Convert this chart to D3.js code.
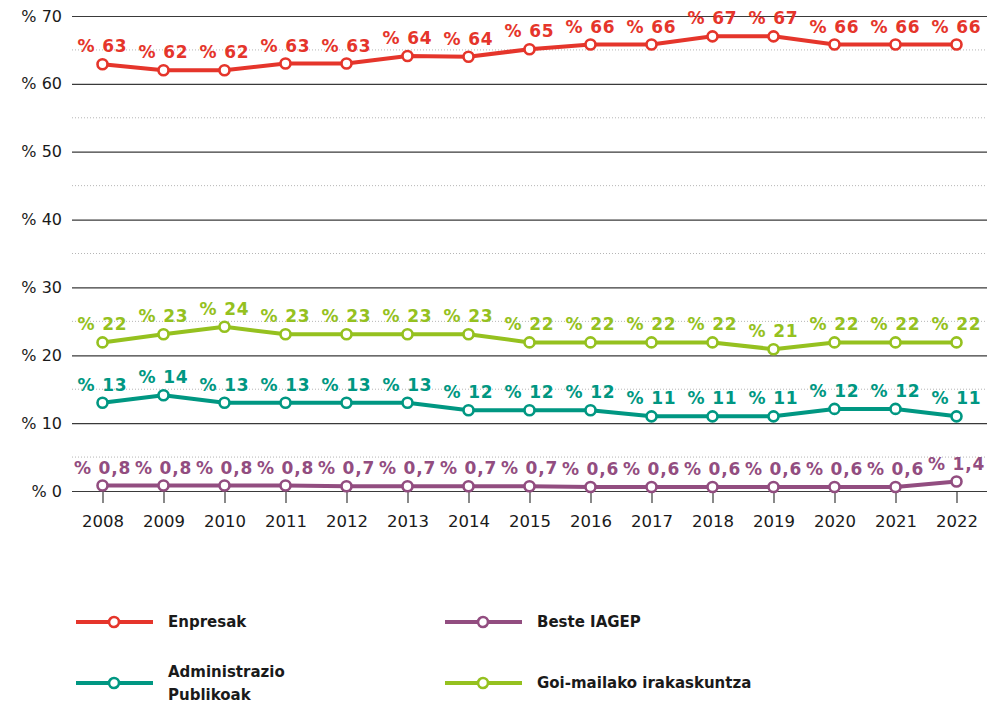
<!DOCTYPE html>
<html>
<head>
<meta charset="utf-8">
<script src="https://cdn.jsdelivr.net/npm/d3@7"></script>
<style>
  body { margin: 0; background: #fff; }
  text { font-family: "DejaVu Sans", sans-serif; }
</style>
</head>
<body>
<div id="chart"></div>
<script>
var years = ["2008","2009","2010","2011","2012","2013","2014","2015","2016","2017","2018","2019","2020","2021","2022"];

var enpresak = [62.9, 62, 62, 63, 63, 64.1, 64, 65.1, 65.8, 65.8, 67, 67, 65.8, 65.8, 65.8];
var enpresakLabels = ["63","62","62","63","63","64","64","65","66","66","67","67","66","66","66"];

var goiMailako = [21.9, 23.1, 24.2, 23.1, 23.1, 23.1, 23.1, 21.9, 21.9, 21.9, 21.9, 20.9, 21.9, 21.9, 21.9];
var goiLabels = ["22","23","24","23","23","23","23","22","22","22","22","21","22","22","22"];

var administrazio = [13, 14.1, 13, 13, 13, 13, 11.9, 11.9, 11.9, 11, 11, 11, 12.1, 12.1, 11];
var adminLabels = ["13","14","13","13","13","13","12","12","12","11","11","11","12","12","11"];

var beste = [0.8, 0.8, 0.8, 0.8, 0.7, 0.7, 0.7, 0.7, 0.6, 0.6, 0.6, 0.6, 0.6, 0.6, 1.4];
var besteLabels = ["0,8","0,8","0,8","0,8","0,7","0,7","0,7","0,7","0,6","0,6","0,6","0,6","0,6","0,6","1,4"];

var yTicks = [0, 10, 20, 30, 40, 50, 60, 70];
var yMinor = [5, 15, 25, 35, 45, 55, 65];

var series = [
  { name: "Enpresak", values: enpresak, labels: enpresakLabels, color: "#e5352b" },
  { name: "Goi-mailako irakaskuntza", values: goiMailako, labels: goiLabels, color: "#95c11f" },
  { name: "Administrazio Publikoak", values: administrazio, labels: adminLabels, color: "#009782" },
  { name: "Beste IAGEP", values: beste, labels: besteLabels, color: "#924d80" }
];

var svgWidth = 1002;
var svgHeight = 703;

var margin = { top: 16, right: 15, bottom: 212, left: 72 };
var width = svgWidth - margin.left - margin.right;
var height = svgHeight - margin.top - margin.bottom;

var svg = d3.select("#chart")
  .append("svg")
  .attr("width", svgWidth)
  .attr("height", svgHeight);

var chartGroup = svg.append("g")
  .attr("transform", `translate(${margin.left}, ${margin.top})`);

var x = d3.scalePoint()
  .domain(years)
  .range([0, width])
  .padding(0.5);

var y = d3.scaleLinear()
  .domain([0, 70])
  .range([height, 0]);

// dotted minor gridlines
chartGroup.selectAll(".minor")
  .data(yMinor)
  .enter()
  .append("line")
  .attr("x1", 0)
  .attr("x2", width)
  .attr("y1", d => y(d))
  .attr("y2", d => y(d))
  .attr("stroke", "#b5b5b5")
  .attr("stroke-width", 1)
  .attr("stroke-dasharray", "1,2");

// y axis with solid gridlines
var leftAxis = d3.axisLeft(y)
  .tickValues(yTicks)
  .tickSize(-width)
  .tickPadding(10)
  .tickFormat(d => "% " + d);

var yAxis = chartGroup.append("g").call(leftAxis);
yAxis.select(".domain").remove();
yAxis.selectAll(".tick line")
  .attr("stroke", "#3a3a3a")
  .attr("stroke-width", 1.2);
yAxis.selectAll(".tick text")
  .attr("font-family", "DejaVu Sans")
  .attr("font-size", "16px")
  .attr("fill", "#1a1a1a");

// x axis
var bottomAxis = d3.axisBottom(x)
  .tickSize(12)
  .tickPadding(12);

var xAxis = chartGroup.append("g")
  .attr("transform", `translate(0, ${height})`)
  .call(bottomAxis);
xAxis.select(".domain").remove();
xAxis.selectAll(".tick line")
  .attr("stroke", "#3a3a3a")
  .attr("stroke-width", 1.2);
xAxis.selectAll(".tick text")
  .attr("font-family", "DejaVu Sans")
  .attr("font-size", "16.5px")
  .attr("fill", "#1a1a1a");

var line = d3.line()
  .x((d, i) => x(years[i]))
  .y(d => y(d));

series.forEach(function(s) {
  var g = chartGroup.append("g");

  g.append("path")
    .datum(s.values)
    .attr("d", line)
    .attr("fill", "none")
    .attr("stroke", s.color)
    .attr("stroke-width", 4)
    .attr("stroke-linejoin", "round");

  g.selectAll("circle")
    .data(s.values)
    .enter()
    .append("circle")
    .attr("cx", (d, i) => x(years[i]))
    .attr("cy", d => y(d))
    .attr("r", 5)
    .attr("fill", "#fff")
    .attr("stroke", s.color)
    .attr("stroke-width", 2.6);

  g.selectAll("text")
    .data(s.values)
    .enter()
    .append("text")
    .attr("x", (d, i) => x(years[i]))
    .attr("y", d => y(d) - 12)
    .attr("text-anchor", "middle")
    .attr("font-size", "17px")
    .attr("font-weight", "bold")
    .attr("letter-spacing", "0.8px")
    .attr("fill", s.color)
    .text((d, i) => "% " + s.labels[i]);
});

// legend
var legendItems = [
  { s: series[0], x: 76, y: 622, lines: ["Enpresak"] },
  { s: series[3], x: 445, y: 622, lines: ["Beste IAGEP"] },
  { s: series[2], x: 76, y: 683, lines: ["Administrazio", "Publikoak"] },
  { s: series[1], x: 445, y: 683, lines: ["Goi-mailako irakaskuntza"] }
];

var legend = svg.selectAll(".legend")
  .data(legendItems)
  .enter()
  .append("g")
  .attr("transform", d => `translate(${d.x}, ${d.y})`);

legend.append("line")
  .attr("x1", 0)
  .attr("x2", 77)
  .attr("stroke", d => d.s.color)
  .attr("stroke-width", 4);

legend.append("circle")
  .attr("cx", 38)
  .attr("r", 5)
  .attr("fill", "#fff")
  .attr("stroke", d => d.s.color)
  .attr("stroke-width", 2.6);

legend.append("text")
  .attr("x", 92)
  .attr("font-size", "15px")
  .attr("font-weight", "bold")
  .attr("fill", "#1a1a1a")
  .each(function(d) {
    var t = d3.select(this);
    var start = -(d.lines.length - 1) * 11.5;
    d.lines.forEach(function(l, i) {
      t.append("tspan")
        .attr("x", 92)
        .attr("y", start + i * 23)
        .attr("dy", "0.35em")
        .text(l);
    });
  });
</script>
</body>
</html>
